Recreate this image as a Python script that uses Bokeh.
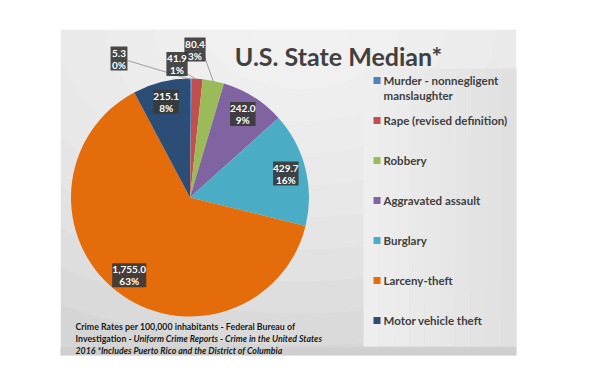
import textwrap
import numpy as np
from bokeh.plotting import figure
from bokeh.models import Range1d
from bokeh.core.properties import value
from bokeh.embed import file_html
from bokeh.resources import INLINE

# ---- data ----
categories = ["Murder - nonnegligent manslaughter", "Rape (revised definition)", "Robbery",
              "Aggravated assault", "Burglary", "Larceny-theft", "Motor vehicle theft"]
values = [5.3, 41.9, 80.4, 242.0, 429.7, 1755.0, 215.1]
pct_labels = ["0%", "1%", "3%", "9%", "16%", "63%", "8%"]
colors = ["#4F81BD", "#C0504D", "#9BBB59", "#8064A2", "#4BACC6", "#E46C0A", "#2C4D75"]
title_text = "U.S. State Median*"
foot_line1 = "Crime Rates per 100,000 inhabitants - Federal Bureau of"
foot_line2a = "Investigation - "
foot_line2b = "Uniform Crime Reports - Crime in the United States"
foot_line3 = "2016 *Includes Puerto Rico and the District of Columbia"

FONT = value("Lato")
W, H = 580, 375
p = figure(width=W, height=H, x_range=Range1d(0, W), y_range=Range1d(-H, 0),
           output_backend="svg", toolbar_location=None, min_border=0,
           x_axis_type=None, y_axis_type=None)
p.grid.visible = False
p.outline_line_color = None
p.background_fill_color = "white"
p.border_fill_color = "white"

def Y(y):
    return -y

# ---- background panel with soft radial light ----
PL, PR, PT, PB = 60, 516, 29, 355
p.quad(left=PL, right=PR, top=Y(PT), bottom=Y(PB), fill_color="#d5d5d5", line_color=None)
n = 10
for i in range(n):
    f = 1 - i / n
    p.ellipse(x=300, y=Y(25), width=980 * f, height=640 * f, fill_color="white",
              fill_alpha=0.12, line_color=None)
# cover anything outside the panel again with white
p.quad(left=[0, PR, 0, 0], right=[PL, W, W, W],
       top=[Y(0), Y(0), Y(0), Y(PB)], bottom=[Y(H), Y(H), Y(PT), Y(H)],
       fill_color="white", line_color=None)
# bottom band
p.quad(left=PL, right=PR, top=Y(347), bottom=Y(PB), fill_color="#cfcfcf", line_color=None)

# legend backdrop (light, fading to the right)
LL, LR, LT, LB = 363, 516, 68, 346
ns = 10
for i in range(ns):
    t = i / (ns - 1)
    c = int(round(238 - 14 * t))
    p.quad(left=LL + (LR - LL) * i / ns, right=LL + (LR - LL) * (i + 1) / ns,
           top=Y(LT), bottom=Y(LB), fill_color="#%02x%02x%02x" % (c, c, c), line_color=None)

# ---- pie ----
cx, cy, R = 189.5, 197.0, 119.0
vals = np.array(values)
tot = vals.sum()
cum = np.concatenate([[0.0], np.cumsum(vals)]) / tot
start = np.pi / 2 - 2 * np.pi * cum[:-1]
end = np.pi / 2 - 2 * np.pi * cum[1:]
mid = (start + end) / 2
p.wedge(x=cx, y=Y(cy), radius=R, start_angle=list(start), end_angle=list(end),
        direction="clock", fill_color=colors, line_color=None)

# ---- data labels ----
val_labels = [f"{v:,.1f}" for v in values]
outside = {0: (118.5, 58.0), 1: (176.5, 63.5), 2: (194.5, 49.0)}
leader_start = {0: (127, 60), 1: (186, 73), 2: (204, 56)}
pos = []
for i in range(len(values)):
    if i in outside:
        pos.append(outside[i])
    else:
        rr = 0.83 * R
        pos.append((cx + rr * np.cos(mid[i]), cy - rr * np.sin(mid[i])))

# leader lines
for i, (sx, sy) in leader_start.items():
    ex, ey = cx + R * np.cos(mid[i]), cy - R * np.sin(mid[i])
    p.line(x=[sx, ex], y=[Y(sy), Y(ey + 1)], line_color="#8c8c8c", line_width=0.8)

bx = [q[0] for q in pos]
by = [Y(q[1]) for q in pos]
bw = [4.3 * max(len(a), len(b)) + 4 for a, b in zip(val_labels, pct_labels)]
p.rect(x=bx, y=by, width=bw, height=24, fill_color="#3a3a3a", fill_alpha=0.92, line_color=None)
p.text(x=bx, y=[Y(q[1] - 5.5) for q in pos], text=val_labels, text_font=FONT,
       text_font_style="bold", text_font_size="10px", text_color="white",
       text_align="center", text_baseline="middle")
p.text(x=bx, y=[Y(q[1] + 6) for q in pos], text=pct_labels, text_font=FONT,
       text_font_style="bold", text_font_size="10px", text_color="white",
       text_align="center", text_baseline="middle")

# ---- title ----
p.text(x=[338], y=[Y(55)], text=[title_text], text_font=FONT, text_font_style="bold",
       text_font_size="25px", text_color="#404040", text_align="center",
       text_baseline="alphabetic")

# ---- legend ----
for i, (cat, col) in enumerate(zip(categories, colors)):
    y0 = 80 + 40 * i
    p.rect(x=[376.5], y=[Y(y0)], width=7, height=7, fill_color=col, line_color=None)
    for j, ln in enumerate(textwrap.wrap(cat, 25)):
        p.text(x=[383], y=[Y(y0 + 14.5 * j)], text=[ln], text_font=FONT,
               text_font_style="bold", text_font_size="11.5px", text_color="#404040",
               text_align="left", text_baseline="middle")

# ---- footnote ----
fk = dict(text_font=FONT, text_font_size="8.8px", text_color="#1a1a1a",
          text_align="left", text_baseline="middle")
p.text(x=[75], y=[Y(326)], text=[foot_line1], text_font_style="bold", **fk)
p.text(x=[75], y=[Y(338)], text=[foot_line2a], text_font_style="bold", **fk)
p.text(x=[133], y=[Y(338)], text=[foot_line2b], text_font_style="bold italic", **fk)
p.text(x=[75], y=[Y(350)], text=[foot_line3], text_font_style="bold italic", **fk)

open("out.html", "w").write(file_html(p, INLINE))
